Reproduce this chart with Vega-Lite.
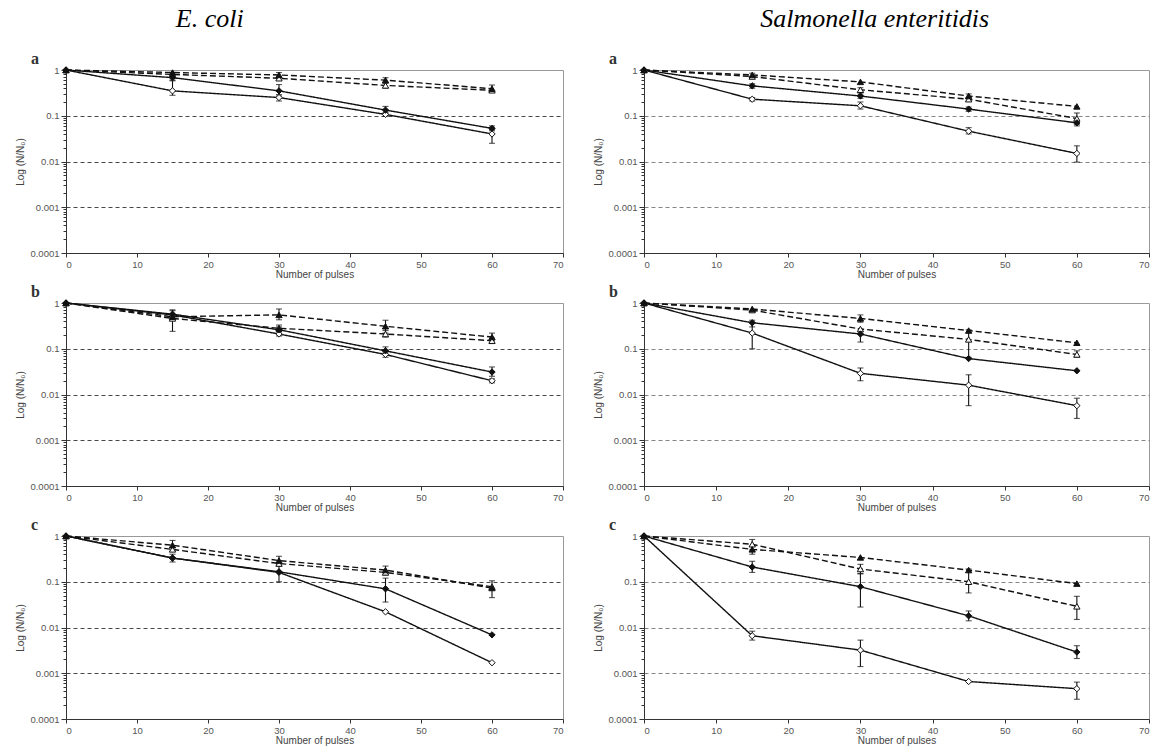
{
  "$schema": "https://vega.github.io/schema/vega-lite/v6.json",
  "padding": {"left": 15, "top": 6, "right": 4, "bottom": 2},
  "background": "white",
  "datasets": {
    "pts": [
      {"o":"E","p":"a","s":"ot","x":0,"y":1},{"o":"E","p":"a","s":"ot","x":15,"y":0.8},{"o":"E","p":"a","s":"ot","x":30,"y":0.66},{"o":"E","p":"a","s":"ot","x":45,"y":0.46,"lo":0.4,"hi":0.52},{"o":"E","p":"a","s":"ot","x":60,"y":0.36},
      {"o":"E","p":"a","s":"od","x":0,"y":1},{"o":"E","p":"a","s":"od","x":15,"y":0.35,"lo":0.28,"hi":0.6},{"o":"E","p":"a","s":"od","x":30,"y":0.25,"lo":0.21,"hi":0.29},{"o":"E","p":"a","s":"od","x":45,"y":0.107,"lo":0.097,"hi":0.118},{"o":"E","p":"a","s":"od","x":60,"y":0.04,"lo":0.025,"hi":0.05},
      {"o":"E","p":"a","s":"ft","x":0,"y":1},{"o":"E","p":"a","s":"ft","x":15,"y":0.88},{"o":"E","p":"a","s":"ft","x":30,"y":0.78,"lo":0.68,"hi":0.88},{"o":"E","p":"a","s":"ft","x":45,"y":0.6,"lo":0.52,"hi":0.68},{"o":"E","p":"a","s":"ft","x":60,"y":0.39,"lo":0.33,"hi":0.47},
      {"o":"E","p":"a","s":"fd","x":0,"y":1},{"o":"E","p":"a","s":"fd","x":15,"y":0.68,"lo":0.58,"hi":0.8},{"o":"E","p":"a","s":"fd","x":30,"y":0.35,"lo":0.27,"hi":0.48},{"o":"E","p":"a","s":"fd","x":45,"y":0.133,"lo":0.11,"hi":0.16},{"o":"E","p":"a","s":"fd","x":60,"y":0.053,"lo":0.047,"hi":0.06},

      {"o":"S","p":"a","s":"ot","x":0,"y":1},{"o":"S","p":"a","s":"ot","x":15,"y":0.72},{"o":"S","p":"a","s":"ot","x":30,"y":0.37,"lo":0.33,"hi":0.41},{"o":"S","p":"a","s":"ot","x":45,"y":0.23,"lo":0.21,"hi":0.25},{"o":"S","p":"a","s":"ot","x":60,"y":0.087,"lo":0.065,"hi":0.115},
      {"o":"S","p":"a","s":"od","x":0,"y":1},{"o":"S","p":"a","s":"od","x":15,"y":0.23,"lo":0.21,"hi":0.25},{"o":"S","p":"a","s":"od","x":30,"y":0.165,"lo":0.14,"hi":0.2},{"o":"S","p":"a","s":"od","x":45,"y":0.046,"lo":0.04,"hi":0.055},{"o":"S","p":"a","s":"od","x":60,"y":0.015,"lo":0.0097,"hi":0.022},
      {"o":"S","p":"a","s":"ft","x":0,"y":1},{"o":"S","p":"a","s":"ft","x":15,"y":0.78,"lo":0.72,"hi":0.85},{"o":"S","p":"a","s":"ft","x":30,"y":0.55},{"o":"S","p":"a","s":"ft","x":45,"y":0.27,"lo":0.25,"hi":0.3},{"o":"S","p":"a","s":"ft","x":60,"y":0.16},
      {"o":"S","p":"a","s":"fd","x":0,"y":1},{"o":"S","p":"a","s":"fd","x":15,"y":0.45,"lo":0.4,"hi":0.5},{"o":"S","p":"a","s":"fd","x":30,"y":0.27,"lo":0.24,"hi":0.3},{"o":"S","p":"a","s":"fd","x":45,"y":0.14,"lo":0.125,"hi":0.155},{"o":"S","p":"a","s":"fd","x":60,"y":0.07,"lo":0.06,"hi":0.08},

      {"o":"E","p":"b","s":"ot","x":0,"y":1},{"o":"E","p":"b","s":"ot","x":15,"y":0.46},{"o":"E","p":"b","s":"ot","x":30,"y":0.28,"lo":0.24,"hi":0.33},{"o":"E","p":"b","s":"ot","x":45,"y":0.21,"lo":0.18,"hi":0.25},{"o":"E","p":"b","s":"ot","x":60,"y":0.15,"lo":0.13,"hi":0.17},
      {"o":"E","p":"b","s":"od","x":0,"y":1},{"o":"E","p":"b","s":"od","x":15,"y":0.55},{"o":"E","p":"b","s":"od","x":30,"y":0.21,"lo":0.19,"hi":0.24},{"o":"E","p":"b","s":"od","x":45,"y":0.075,"lo":0.065,"hi":0.085},{"o":"E","p":"b","s":"od","x":60,"y":0.02,"lo":0.018,"hi":0.022},
      {"o":"E","p":"b","s":"ft","x":0,"y":1},{"o":"E","p":"b","s":"ft","x":15,"y":0.5,"lo":0.24,"hi":0.71},{"o":"E","p":"b","s":"ft","x":30,"y":0.55,"lo":0.43,"hi":0.74},{"o":"E","p":"b","s":"ft","x":45,"y":0.31,"lo":0.22,"hi":0.42},{"o":"E","p":"b","s":"ft","x":60,"y":0.18,"lo":0.15,"hi":0.22},
      {"o":"E","p":"b","s":"fd","x":0,"y":1},{"o":"E","p":"b","s":"fd","x":15,"y":0.57,"lo":0.5,"hi":0.68},{"o":"E","p":"b","s":"fd","x":30,"y":0.26,"lo":0.22,"hi":0.3},{"o":"E","p":"b","s":"fd","x":45,"y":0.09,"lo":0.075,"hi":0.11},{"o":"E","p":"b","s":"fd","x":60,"y":0.031,"lo":0.025,"hi":0.04},

      {"o":"S","p":"b","s":"ot","x":0,"y":1},{"o":"S","p":"b","s":"ot","x":15,"y":0.7},{"o":"S","p":"b","s":"ot","x":30,"y":0.27},{"o":"S","p":"b","s":"ot","x":45,"y":0.16,"lo":0.065,"hi":0.26},{"o":"S","p":"b","s":"ot","x":60,"y":0.075,"lo":0.065,"hi":0.09},
      {"o":"S","p":"b","s":"od","x":0,"y":1},{"o":"S","p":"b","s":"od","x":15,"y":0.22,"lo":0.1,"hi":0.37},{"o":"S","p":"b","s":"od","x":30,"y":0.029,"lo":0.02,"hi":0.038},{"o":"S","p":"b","s":"od","x":45,"y":0.016,"lo":0.0057,"hi":0.027},{"o":"S","p":"b","s":"od","x":60,"y":0.0057,"lo":0.003,"hi":0.0083},
      {"o":"S","p":"b","s":"ft","x":0,"y":1},{"o":"S","p":"b","s":"ft","x":15,"y":0.74},{"o":"S","p":"b","s":"ft","x":30,"y":0.46,"lo":0.38,"hi":0.55},{"o":"S","p":"b","s":"ft","x":45,"y":0.25},{"o":"S","p":"b","s":"ft","x":60,"y":0.135},
      {"o":"S","p":"b","s":"fd","x":0,"y":1},{"o":"S","p":"b","s":"fd","x":15,"y":0.37,"lo":0.3,"hi":0.42},{"o":"S","p":"b","s":"fd","x":30,"y":0.21,"lo":0.14,"hi":0.27},{"o":"S","p":"b","s":"fd","x":45,"y":0.061},{"o":"S","p":"b","s":"fd","x":60,"y":0.033},

      {"o":"E","p":"c","s":"ot","x":0,"y":1},{"o":"E","p":"c","s":"ot","x":15,"y":0.51},{"o":"E","p":"c","s":"ot","x":30,"y":0.25},{"o":"E","p":"c","s":"ot","x":45,"y":0.16},{"o":"E","p":"c","s":"ot","x":60,"y":0.078},
      {"o":"E","p":"c","s":"od","x":0,"y":1},{"o":"E","p":"c","s":"od","x":15,"y":0.33},{"o":"E","p":"c","s":"od","x":30,"y":0.16},{"o":"E","p":"c","s":"od","x":45,"y":0.022},{"o":"E","p":"c","s":"od","x":60,"y":0.0017},
      {"o":"E","p":"c","s":"ft","x":0,"y":1},{"o":"E","p":"c","s":"ft","x":15,"y":0.63,"lo":0.47,"hi":0.8},{"o":"E","p":"c","s":"ft","x":30,"y":0.29,"lo":0.24,"hi":0.36},{"o":"E","p":"c","s":"ft","x":45,"y":0.18,"lo":0.14,"hi":0.22},{"o":"E","p":"c","s":"ft","x":60,"y":0.073,"lo":0.045,"hi":0.105},
      {"o":"E","p":"c","s":"fd","x":0,"y":1},{"o":"E","p":"c","s":"fd","x":15,"y":0.33,"lo":0.27,"hi":0.4},{"o":"E","p":"c","s":"fd","x":30,"y":0.165,"lo":0.1,"hi":0.22},{"o":"E","p":"c","s":"fd","x":45,"y":0.07,"lo":0.036,"hi":0.12},{"o":"E","p":"c","s":"fd","x":60,"y":0.0069},

      {"o":"S","p":"c","s":"ot","x":0,"y":1},{"o":"S","p":"c","s":"ot","x":15,"y":0.66,"lo":0.5,"hi":0.84},{"o":"S","p":"c","s":"ot","x":30,"y":0.19,"lo":0.15,"hi":0.24},{"o":"S","p":"c","s":"ot","x":45,"y":0.1,"lo":0.057,"hi":0.19},{"o":"S","p":"c","s":"ot","x":60,"y":0.029,"lo":0.015,"hi":0.048},
      {"o":"S","p":"c","s":"od","x":0,"y":1},{"o":"S","p":"c","s":"od","x":15,"y":0.0066,"lo":0.0053,"hi":0.0083},{"o":"S","p":"c","s":"od","x":30,"y":0.0032,"lo":0.0014,"hi":0.0053},{"o":"S","p":"c","s":"od","x":45,"y":0.00066},{"o":"S","p":"c","s":"od","x":60,"y":0.00046,"lo":0.00027,"hi":0.00064},
      {"o":"S","p":"c","s":"ft","x":0,"y":1},{"o":"S","p":"c","s":"ft","x":15,"y":0.51,"lo":0.4,"hi":0.6},{"o":"S","p":"c","s":"ft","x":30,"y":0.34},{"o":"S","p":"c","s":"ft","x":45,"y":0.18},{"o":"S","p":"c","s":"ft","x":60,"y":0.091},
      {"o":"S","p":"c","s":"fd","x":0,"y":1},{"o":"S","p":"c","s":"fd","x":15,"y":0.21,"lo":0.16,"hi":0.28},{"o":"S","p":"c","s":"fd","x":30,"y":0.078,"lo":0.028,"hi":0.15},{"o":"S","p":"c","s":"fd","x":45,"y":0.018,"lo":0.014,"hi":0.023},{"o":"S","p":"c","s":"fd","x":60,"y":0.0029,"lo":0.0021,"hi":0.004}
    ]
  },
  "data": {"name": "pts"},
  "spacing": 29,
  "bounds": "full",
  "hconcat": [
    {
      "title": {"text": "E. coli", "font": "Liberation Serif", "fontStyle": "italic", "fontWeight": "normal", "fontSize": 26, "color": "#000", "anchor": "middle", "dx": -80, "offset": 18},
      "spacing": 50,
      "bounds": "flush",
      "vconcat": [
        {
          "width": 497, "height": 183,
          "title": {"text": "a", "font": "Liberation Serif", "fontWeight": "bold", "fontSize": 16, "color": "#333", "anchor": "start", "frame": "bounds", "dx": 15, "offset": -2},
          "transform": [{"filter": "datum.o === 'E' && datum.p === 'a'"}],
          "layer": [
            {"mark": {"type": "line", "color": "#111", "strokeWidth": 1.4},
             "encoding": {
               "x": {"field": "x", "type": "quantitative", "scale": {"domain": [0, 70], "nice": false, "zero": false}, "axis": {"title": "Number of pulses", "values": [0,10,20,30,40,50,60,70]}},
               "y": {"field": "y", "type": "quantitative", "scale": {"type": "log", "domain": [0.0001, 1], "nice": false},
                     "axis": {"title": "Log (N/N₀)", "values": [1,0.9,0.8,0.7,0.6,0.5,0.4,0.3,0.2,0.1,0.09,0.08,0.07,0.06,0.05,0.04,0.03,0.02,0.01,0.009,0.008,0.007,0.006,0.005,0.004,0.003,0.002,0.001,0.0009,0.0008,0.0007,0.0006,0.0005,0.0004,0.0003,0.0002,0.0001],
                              "labelExpr": "abs(log(datum.value)/LN10 - round(log(datum.value)/LN10)) < 0.001 ? format(datum.value, '~g') : ''",
                              "labelOverlap": false,
                              "tickSize": {"condition": {"test": "abs(log(datum.value)/LN10 - round(log(datum.value)/LN10)) < 0.001", "value": 5}, "value": 3},
                              "grid": true, "gridDash": [4, 3], "gridColor": "#333", "gridWidth": 0.9,
                              "gridOpacity": {"condition": {"test": "datum.value > 0.0005 && datum.value < 0.5 && abs(log(datum.value)/LN10 - round(log(datum.value)/LN10)) < 0.001", "value": 1}, "value": 0},
                              "titlePadding": 4}},
               "strokeDash": {"field": "s", "type": "nominal", "scale": {"domain": ["fd","od","ft","ot"], "range": [[1,0],[1,0],[6,3],[6,3]]}, "legend": null},
               "detail": {"field": "s", "type": "nominal"}
             }},
            {"mark": {"type": "rule", "color": "#111", "strokeWidth": 1.1},
             "transform": [{"filter": "isValid(datum.lo)"}],
             "encoding": {"x": {"field": "x", "type": "quantitative"}, "y": {"field": "lo", "type": "quantitative"}, "y2": {"field": "hi"}}},
            {"mark": {"type": "tick", "orient": "horizontal", "size": 6, "thickness": 1.1, "color": "#111"},
             "transform": [{"filter": "isValid(datum.lo)"}],
             "encoding": {"x": {"field": "x", "type": "quantitative"}, "y": {"field": "lo", "type": "quantitative"}}},
            {"mark": {"type": "tick", "orient": "horizontal", "size": 6, "thickness": 1.1, "color": "#111"},
             "transform": [{"filter": "isValid(datum.hi)"}],
             "encoding": {"x": {"field": "x", "type": "quantitative"}, "y": {"field": "hi", "type": "quantitative"}}},
            {"mark": {"type": "point", "filled": true, "stroke": "#111", "strokeWidth": 1, "size": 40, "opacity": 1},
             "encoding": {
               "x": {"field": "x", "type": "quantitative"},
               "y": {"field": "y", "type": "quantitative"},
               "shape": {"field": "s", "type": "nominal", "scale": {"domain": ["fd","od","ft","ot"], "range": ["diamond","diamond","triangle-up","triangle-up"]}, "legend": null},
               "fill": {"field": "s", "type": "nominal", "scale": {"domain": ["fd","od","ft","ot"], "range": ["#111","#fff","#111","#fff"]}, "legend": null}
             }}
          ]
        },
        {
          "width": 497, "height": 183,
          "title": {"text": "b", "font": "Liberation Serif", "fontWeight": "bold", "fontSize": 16, "color": "#333", "anchor": "start", "frame": "bounds", "dx": 15, "offset": -2},
          "transform": [{"filter": "datum.o === 'E' && datum.p === 'b'"}],
          "layer": [
            {"mark": {"type": "line", "color": "#111", "strokeWidth": 1.4},
             "encoding": {
               "x": {"field": "x", "type": "quantitative", "scale": {"domain": [0, 70], "nice": false, "zero": false}, "axis": {"title": "Number of pulses", "values": [0,10,20,30,40,50,60,70]}},
               "y": {"field": "y", "type": "quantitative", "scale": {"type": "log", "domain": [0.0001, 1], "nice": false},
                     "axis": {"title": "Log (N/N₀)", "values": [1,0.9,0.8,0.7,0.6,0.5,0.4,0.3,0.2,0.1,0.09,0.08,0.07,0.06,0.05,0.04,0.03,0.02,0.01,0.009,0.008,0.007,0.006,0.005,0.004,0.003,0.002,0.001,0.0009,0.0008,0.0007,0.0006,0.0005,0.0004,0.0003,0.0002,0.0001],
                              "labelExpr": "abs(log(datum.value)/LN10 - round(log(datum.value)/LN10)) < 0.001 ? format(datum.value, '~g') : ''",
                              "labelOverlap": false,
                              "tickSize": {"condition": {"test": "abs(log(datum.value)/LN10 - round(log(datum.value)/LN10)) < 0.001", "value": 5}, "value": 3},
                              "grid": true, "gridDash": [4, 3], "gridColor": "#333", "gridWidth": 0.9,
                              "gridOpacity": {"condition": {"test": "datum.value > 0.0005 && datum.value < 0.5 && abs(log(datum.value)/LN10 - round(log(datum.value)/LN10)) < 0.001", "value": 1}, "value": 0},
                              "titlePadding": 4}},
               "strokeDash": {"field": "s", "type": "nominal", "scale": {"domain": ["fd","od","ft","ot"], "range": [[1,0],[1,0],[6,3],[6,3]]}, "legend": null},
               "detail": {"field": "s", "type": "nominal"}
             }},
            {"mark": {"type": "rule", "color": "#111", "strokeWidth": 1.1},
             "transform": [{"filter": "isValid(datum.lo)"}],
             "encoding": {"x": {"field": "x", "type": "quantitative"}, "y": {"field": "lo", "type": "quantitative"}, "y2": {"field": "hi"}}},
            {"mark": {"type": "tick", "orient": "horizontal", "size": 6, "thickness": 1.1, "color": "#111"},
             "transform": [{"filter": "isValid(datum.lo)"}],
             "encoding": {"x": {"field": "x", "type": "quantitative"}, "y": {"field": "lo", "type": "quantitative"}}},
            {"mark": {"type": "tick", "orient": "horizontal", "size": 6, "thickness": 1.1, "color": "#111"},
             "transform": [{"filter": "isValid(datum.hi)"}],
             "encoding": {"x": {"field": "x", "type": "quantitative"}, "y": {"field": "hi", "type": "quantitative"}}},
            {"mark": {"type": "point", "filled": true, "stroke": "#111", "strokeWidth": 1, "size": 40, "opacity": 1},
             "encoding": {
               "x": {"field": "x", "type": "quantitative"},
               "y": {"field": "y", "type": "quantitative"},
               "shape": {"field": "s", "type": "nominal", "scale": {"domain": ["fd","od","ft","ot"], "range": ["diamond","diamond","triangle-up","triangle-up"]}, "legend": null},
               "fill": {"field": "s", "type": "nominal", "scale": {"domain": ["fd","od","ft","ot"], "range": ["#111","#fff","#111","#fff"]}, "legend": null}
             }}
          ]
        },
        {
          "width": 497, "height": 183,
          "title": {"text": "c", "font": "Liberation Serif", "fontWeight": "bold", "fontSize": 16, "color": "#333", "anchor": "start", "frame": "bounds", "dx": 15, "offset": -2},
          "transform": [{"filter": "datum.o === 'E' && datum.p === 'c'"}],
          "layer": [
            {"mark": {"type": "line", "color": "#111", "strokeWidth": 1.4},
             "encoding": {
               "x": {"field": "x", "type": "quantitative", "scale": {"domain": [0, 70], "nice": false, "zero": false}, "axis": {"title": "Number of pulses", "values": [0,10,20,30,40,50,60,70]}},
               "y": {"field": "y", "type": "quantitative", "scale": {"type": "log", "domain": [0.0001, 1], "nice": false},
                     "axis": {"title": "Log (N/N₀)", "values": [1,0.9,0.8,0.7,0.6,0.5,0.4,0.3,0.2,0.1,0.09,0.08,0.07,0.06,0.05,0.04,0.03,0.02,0.01,0.009,0.008,0.007,0.006,0.005,0.004,0.003,0.002,0.001,0.0009,0.0008,0.0007,0.0006,0.0005,0.0004,0.0003,0.0002,0.0001],
                              "labelExpr": "abs(log(datum.value)/LN10 - round(log(datum.value)/LN10)) < 0.001 ? format(datum.value, '~g') : ''",
                              "labelOverlap": false,
                              "tickSize": {"condition": {"test": "abs(log(datum.value)/LN10 - round(log(datum.value)/LN10)) < 0.001", "value": 5}, "value": 3},
                              "grid": true, "gridDash": [4, 3], "gridColor": "#333", "gridWidth": 0.9,
                              "gridOpacity": {"condition": {"test": "datum.value > 0.0005 && datum.value < 0.5 && abs(log(datum.value)/LN10 - round(log(datum.value)/LN10)) < 0.001", "value": 1}, "value": 0},
                              "titlePadding": 4}},
               "strokeDash": {"field": "s", "type": "nominal", "scale": {"domain": ["fd","od","ft","ot"], "range": [[1,0],[1,0],[6,3],[6,3]]}, "legend": null},
               "detail": {"field": "s", "type": "nominal"}
             }},
            {"mark": {"type": "rule", "color": "#111", "strokeWidth": 1.1},
             "transform": [{"filter": "isValid(datum.lo)"}],
             "encoding": {"x": {"field": "x", "type": "quantitative"}, "y": {"field": "lo", "type": "quantitative"}, "y2": {"field": "hi"}}},
            {"mark": {"type": "tick", "orient": "horizontal", "size": 6, "thickness": 1.1, "color": "#111"},
             "transform": [{"filter": "isValid(datum.lo)"}],
             "encoding": {"x": {"field": "x", "type": "quantitative"}, "y": {"field": "lo", "type": "quantitative"}}},
            {"mark": {"type": "tick", "orient": "horizontal", "size": 6, "thickness": 1.1, "color": "#111"},
             "transform": [{"filter": "isValid(datum.hi)"}],
             "encoding": {"x": {"field": "x", "type": "quantitative"}, "y": {"field": "hi", "type": "quantitative"}}},
            {"mark": {"type": "point", "filled": true, "stroke": "#111", "strokeWidth": 1, "size": 40, "opacity": 1},
             "encoding": {
               "x": {"field": "x", "type": "quantitative"},
               "y": {"field": "y", "type": "quantitative"},
               "shape": {"field": "s", "type": "nominal", "scale": {"domain": ["fd","od","ft","ot"], "range": ["diamond","diamond","triangle-up","triangle-up"]}, "legend": null},
               "fill": {"field": "s", "type": "nominal", "scale": {"domain": ["fd","od","ft","ot"], "range": ["#111","#fff","#111","#fff"]}, "legend": null}
             }}
          ]
        }
      ]
    },
    {
      "title": {"text": "Salmonella enteritidis", "font": "Liberation Serif", "fontStyle": "italic", "fontWeight": "normal", "fontSize": 26, "color": "#000", "anchor": "middle", "dx": 3, "offset": 18},
      "spacing": 50,
      "bounds": "flush",
      "vconcat": [
        {
          "width": 505, "height": 183,
          "title": {"text": "a", "font": "Liberation Serif", "fontWeight": "bold", "fontSize": 16, "color": "#333", "anchor": "start", "frame": "bounds", "dx": 15, "offset": -2},
          "transform": [{"filter": "datum.o === 'S' && datum.p === 'a'"}],
          "layer": [
            {"mark": {"type": "line", "color": "#111", "strokeWidth": 1.4},
             "encoding": {
               "x": {"field": "x", "type": "quantitative", "scale": {"domain": [0, 70], "nice": false, "zero": false}, "axis": {"title": "Number of pulses", "values": [0,10,20,30,40,50,60,70]}},
               "y": {"field": "y", "type": "quantitative", "scale": {"type": "log", "domain": [0.0001, 1], "nice": false},
                     "axis": {"title": "Log (N/N₀)", "values": [1,0.9,0.8,0.7,0.6,0.5,0.4,0.3,0.2,0.1,0.09,0.08,0.07,0.06,0.05,0.04,0.03,0.02,0.01,0.009,0.008,0.007,0.006,0.005,0.004,0.003,0.002,0.001,0.0009,0.0008,0.0007,0.0006,0.0005,0.0004,0.0003,0.0002,0.0001],
                              "labelExpr": "abs(log(datum.value)/LN10 - round(log(datum.value)/LN10)) < 0.001 ? format(datum.value, '~g') : ''",
                              "labelOverlap": false,
                              "tickSize": {"condition": {"test": "abs(log(datum.value)/LN10 - round(log(datum.value)/LN10)) < 0.001", "value": 5}, "value": 3},
                              "grid": true, "gridDash": [4, 3], "gridColor": "#666", "gridWidth": 0.8,
                              "gridOpacity": {"condition": {"test": "datum.value > 0.0005 && datum.value < 0.5 && abs(log(datum.value)/LN10 - round(log(datum.value)/LN10)) < 0.001", "value": 1}, "value": 0},
                              "titlePadding": 4}},
               "strokeDash": {"field": "s", "type": "nominal", "scale": {"domain": ["fd","od","ft","ot"], "range": [[1,0],[1,0],[6,3],[6,3]]}, "legend": null},
               "detail": {"field": "s", "type": "nominal"}
             }},
            {"mark": {"type": "rule", "color": "#111", "strokeWidth": 1.1},
             "transform": [{"filter": "isValid(datum.lo)"}],
             "encoding": {"x": {"field": "x", "type": "quantitative"}, "y": {"field": "lo", "type": "quantitative"}, "y2": {"field": "hi"}}},
            {"mark": {"type": "tick", "orient": "horizontal", "size": 6, "thickness": 1.1, "color": "#111"},
             "transform": [{"filter": "isValid(datum.lo)"}],
             "encoding": {"x": {"field": "x", "type": "quantitative"}, "y": {"field": "lo", "type": "quantitative"}}},
            {"mark": {"type": "tick", "orient": "horizontal", "size": 6, "thickness": 1.1, "color": "#111"},
             "transform": [{"filter": "isValid(datum.hi)"}],
             "encoding": {"x": {"field": "x", "type": "quantitative"}, "y": {"field": "hi", "type": "quantitative"}}},
            {"mark": {"type": "point", "filled": true, "stroke": "#111", "strokeWidth": 1, "size": 40, "opacity": 1},
             "encoding": {
               "x": {"field": "x", "type": "quantitative"},
               "y": {"field": "y", "type": "quantitative"},
               "shape": {"field": "s", "type": "nominal", "scale": {"domain": ["fd","od","ft","ot"], "range": ["diamond","diamond","triangle-up","triangle-up"]}, "legend": null},
               "fill": {"field": "s", "type": "nominal", "scale": {"domain": ["fd","od","ft","ot"], "range": ["#111","#fff","#111","#fff"]}, "legend": null}
             }}
          ]
        },
        {
          "width": 505, "height": 183,
          "title": {"text": "b", "font": "Liberation Serif", "fontWeight": "bold", "fontSize": 16, "color": "#333", "anchor": "start", "frame": "bounds", "dx": 15, "offset": -2},
          "transform": [{"filter": "datum.o === 'S' && datum.p === 'b'"}],
          "layer": [
            {"mark": {"type": "line", "color": "#111", "strokeWidth": 1.4},
             "encoding": {
               "x": {"field": "x", "type": "quantitative", "scale": {"domain": [0, 70], "nice": false, "zero": false}, "axis": {"title": "Number of pulses", "values": [0,10,20,30,40,50,60,70]}},
               "y": {"field": "y", "type": "quantitative", "scale": {"type": "log", "domain": [0.0001, 1], "nice": false},
                     "axis": {"title": "Log (N/N₀)", "values": [1,0.9,0.8,0.7,0.6,0.5,0.4,0.3,0.2,0.1,0.09,0.08,0.07,0.06,0.05,0.04,0.03,0.02,0.01,0.009,0.008,0.007,0.006,0.005,0.004,0.003,0.002,0.001,0.0009,0.0008,0.0007,0.0006,0.0005,0.0004,0.0003,0.0002,0.0001],
                              "labelExpr": "abs(log(datum.value)/LN10 - round(log(datum.value)/LN10)) < 0.001 ? format(datum.value, '~g') : ''",
                              "labelOverlap": false,
                              "tickSize": {"condition": {"test": "abs(log(datum.value)/LN10 - round(log(datum.value)/LN10)) < 0.001", "value": 5}, "value": 3},
                              "grid": true, "gridDash": [4, 3], "gridColor": "#666", "gridWidth": 0.8,
                              "gridOpacity": {"condition": {"test": "datum.value > 0.0005 && datum.value < 0.5 && abs(log(datum.value)/LN10 - round(log(datum.value)/LN10)) < 0.001", "value": 1}, "value": 0},
                              "titlePadding": 4}},
               "strokeDash": {"field": "s", "type": "nominal", "scale": {"domain": ["fd","od","ft","ot"], "range": [[1,0],[1,0],[6,3],[6,3]]}, "legend": null},
               "detail": {"field": "s", "type": "nominal"}
             }},
            {"mark": {"type": "rule", "color": "#111", "strokeWidth": 1.1},
             "transform": [{"filter": "isValid(datum.lo)"}],
             "encoding": {"x": {"field": "x", "type": "quantitative"}, "y": {"field": "lo", "type": "quantitative"}, "y2": {"field": "hi"}}},
            {"mark": {"type": "tick", "orient": "horizontal", "size": 6, "thickness": 1.1, "color": "#111"},
             "transform": [{"filter": "isValid(datum.lo)"}],
             "encoding": {"x": {"field": "x", "type": "quantitative"}, "y": {"field": "lo", "type": "quantitative"}}},
            {"mark": {"type": "tick", "orient": "horizontal", "size": 6, "thickness": 1.1, "color": "#111"},
             "transform": [{"filter": "isValid(datum.hi)"}],
             "encoding": {"x": {"field": "x", "type": "quantitative"}, "y": {"field": "hi", "type": "quantitative"}}},
            {"mark": {"type": "point", "filled": true, "stroke": "#111", "strokeWidth": 1, "size": 40, "opacity": 1},
             "encoding": {
               "x": {"field": "x", "type": "quantitative"},
               "y": {"field": "y", "type": "quantitative"},
               "shape": {"field": "s", "type": "nominal", "scale": {"domain": ["fd","od","ft","ot"], "range": ["diamond","diamond","triangle-up","triangle-up"]}, "legend": null},
               "fill": {"field": "s", "type": "nominal", "scale": {"domain": ["fd","od","ft","ot"], "range": ["#111","#fff","#111","#fff"]}, "legend": null}
             }}
          ]
        },
        {
          "width": 505, "height": 183,
          "title": {"text": "c", "font": "Liberation Serif", "fontWeight": "bold", "fontSize": 16, "color": "#333", "anchor": "start", "frame": "bounds", "dx": 15, "offset": -2},
          "transform": [{"filter": "datum.o === 'S' && datum.p === 'c'"}],
          "layer": [
            {"mark": {"type": "line", "color": "#111", "strokeWidth": 1.4},
             "encoding": {
               "x": {"field": "x", "type": "quantitative", "scale": {"domain": [0, 70], "nice": false, "zero": false}, "axis": {"title": "Number of pulses", "values": [0,10,20,30,40,50,60,70]}},
               "y": {"field": "y", "type": "quantitative", "scale": {"type": "log", "domain": [0.0001, 1], "nice": false},
                     "axis": {"title": "Log (N/N₀)", "values": [1,0.9,0.8,0.7,0.6,0.5,0.4,0.3,0.2,0.1,0.09,0.08,0.07,0.06,0.05,0.04,0.03,0.02,0.01,0.009,0.008,0.007,0.006,0.005,0.004,0.003,0.002,0.001,0.0009,0.0008,0.0007,0.0006,0.0005,0.0004,0.0003,0.0002,0.0001],
                              "labelExpr": "abs(log(datum.value)/LN10 - round(log(datum.value)/LN10)) < 0.001 ? format(datum.value, '~g') : ''",
                              "labelOverlap": false,
                              "tickSize": {"condition": {"test": "abs(log(datum.value)/LN10 - round(log(datum.value)/LN10)) < 0.001", "value": 5}, "value": 3},
                              "grid": true, "gridDash": [4, 3], "gridColor": "#666", "gridWidth": 0.8,
                              "gridOpacity": {"condition": {"test": "datum.value > 0.0005 && datum.value < 0.5 && abs(log(datum.value)/LN10 - round(log(datum.value)/LN10)) < 0.001", "value": 1}, "value": 0},
                              "titlePadding": 4}},
               "strokeDash": {"field": "s", "type": "nominal", "scale": {"domain": ["fd","od","ft","ot"], "range": [[1,0],[1,0],[6,3],[6,3]]}, "legend": null},
               "detail": {"field": "s", "type": "nominal"}
             }},
            {"mark": {"type": "rule", "color": "#111", "strokeWidth": 1.1},
             "transform": [{"filter": "isValid(datum.lo)"}],
             "encoding": {"x": {"field": "x", "type": "quantitative"}, "y": {"field": "lo", "type": "quantitative"}, "y2": {"field": "hi"}}},
            {"mark": {"type": "tick", "orient": "horizontal", "size": 6, "thickness": 1.1, "color": "#111"},
             "transform": [{"filter": "isValid(datum.lo)"}],
             "encoding": {"x": {"field": "x", "type": "quantitative"}, "y": {"field": "lo", "type": "quantitative"}}},
            {"mark": {"type": "tick", "orient": "horizontal", "size": 6, "thickness": 1.1, "color": "#111"},
             "transform": [{"filter": "isValid(datum.hi)"}],
             "encoding": {"x": {"field": "x", "type": "quantitative"}, "y": {"field": "hi", "type": "quantitative"}}},
            {"mark": {"type": "point", "filled": true, "stroke": "#111", "strokeWidth": 1, "size": 40, "opacity": 1},
             "encoding": {
               "x": {"field": "x", "type": "quantitative"},
               "y": {"field": "y", "type": "quantitative"},
               "shape": {"field": "s", "type": "nominal", "scale": {"domain": ["fd","od","ft","ot"], "range": ["diamond","diamond","triangle-up","triangle-up"]}, "legend": null},
               "fill": {"field": "s", "type": "nominal", "scale": {"domain": ["fd","od","ft","ot"], "range": ["#111","#fff","#111","#fff"]}, "legend": null}
             }}
          ]
        }
      ]
    }
  ],
  "config": {
    "view": {"stroke": "#999", "strokeWidth": 1},
    "axis": {"labelFont": "Liberation Sans", "labelFontSize": 9.5, "labelColor": "#555", "titleFont": "Liberation Sans", "titleFontSize": 10, "titleFontWeight": "normal", "titleColor": "#444", "domainColor": "#333", "tickColor": "#333", "labelPadding": 2},
    "axisX": {"tickSize": 4, "grid": false, "titlePadding": 1}
  }
}
